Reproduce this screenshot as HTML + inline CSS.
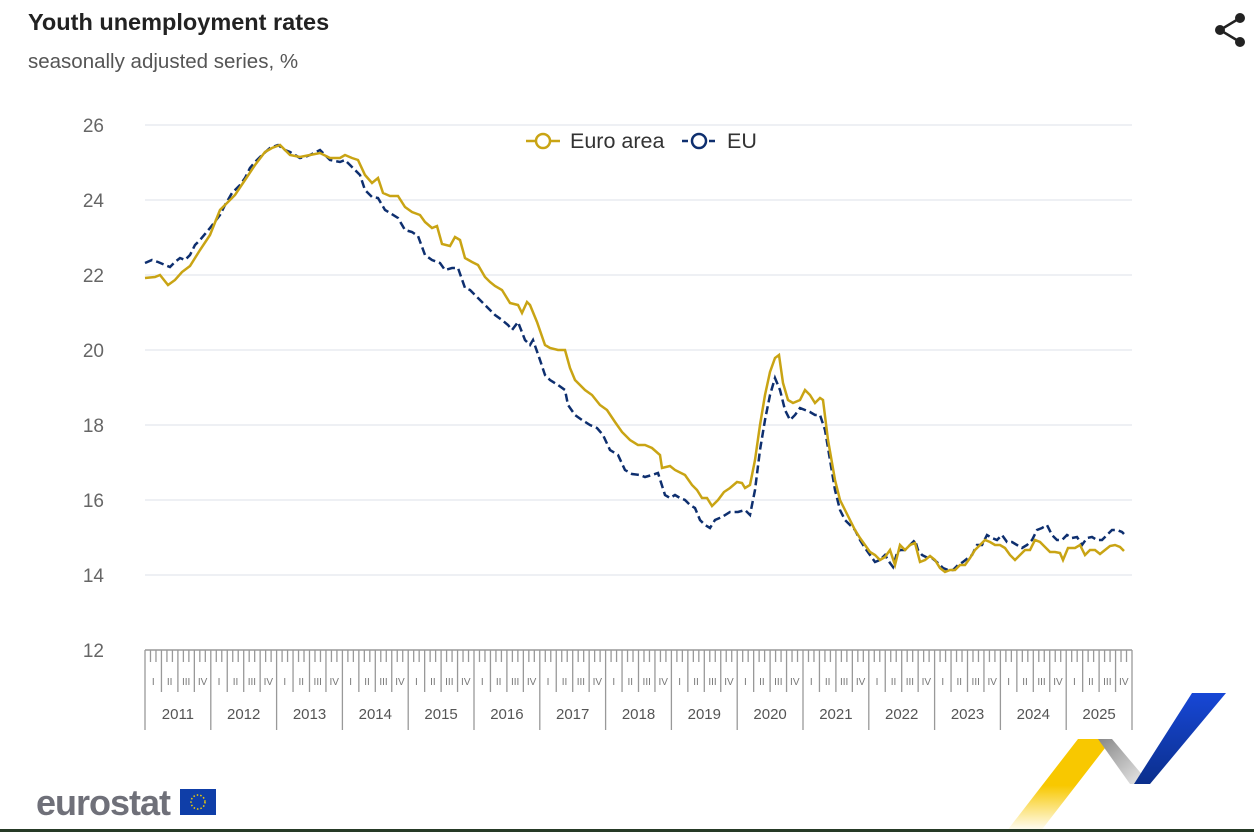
<!DOCTYPE html>
<html><head><meta charset="utf-8"><style>
html,body{margin:0;padding:0;background:#fff;width:1254px;height:832px;overflow:hidden;font-family:"Liberation Sans",sans-serif}
</style></head><body>
<svg id="s" width="1254" height="832" xmlns="http://www.w3.org/2000/svg" font-family="Liberation Sans, sans-serif">
<text x="28" y="30" font-size="23.5" font-weight="bold" fill="#222">Youth unemployment rates</text>
<text x="28" y="68" font-size="20.5" fill="#555">seasonally adjusted series, %</text>
<g fill="#222"><circle cx="1240" cy="18" r="5"/><circle cx="1240" cy="42" r="5"/><circle cx="1220" cy="30" r="5"/></g>
<path d="M1240 18L1220 30L1240 42" stroke="#222" stroke-width="2.5" fill="none"/>
<g id="grid"></g>
<g id="ticks"></g>
<polyline id="eu" fill="none" stroke="#0e2f6f" stroke-width="2.5" stroke-dasharray="8,4"/>
<polyline id="ea" fill="none" stroke="#c9a414" stroke-width="2.5"/>
<g>
<line x1="526" y1="141" x2="560" y2="141" stroke="#c9a414" stroke-width="2.5"/>
<circle cx="543" cy="141" r="7" fill="#fff" stroke="#c9a414" stroke-width="2.5"/>
<text x="570" y="148" font-size="21.5" fill="#333">Euro area</text>
<line x1="682" y1="141" x2="716" y2="141" stroke="#0e2f6f" stroke-width="2.5" stroke-dasharray="6,3"/>
<circle cx="699" cy="141" r="7" fill="#fff" stroke="#0e2f6f" stroke-width="2.5"/>
<text x="727" y="148" font-size="21.5" fill="#333">EU</text>
</g>
<text x="36" y="815" font-size="36" font-weight="bold" fill="#6f7079" letter-spacing="-1">eurostat</text>
<rect x="180" y="789" width="36" height="26" fill="#0f3ea8"/>
<circle cx="198" cy="802" r="7" fill="none" stroke="#f5d000" stroke-width="1.5" stroke-dasharray="1.5,2"/>
<defs><linearGradient id="yg" x1="0" y1="0" x2="0" y2="1"><stop offset="0" stop-color="#f8c800"/><stop offset="0.5" stop-color="#f8c800"/><stop offset="1" stop-color="#fff"/></linearGradient>
<linearGradient id="gg" x1="0" y1="0" x2="1" y2="1"><stop offset="0" stop-color="#888"/><stop offset="1" stop-color="#eee"/></linearGradient>
<linearGradient id="bg" x1="0" y1="0" x2="0" y2="1"><stop offset="0" stop-color="#1747d6"/><stop offset="1" stop-color="#0b2f8c"/></linearGradient></defs>
<polygon points="1078,739 1112,739 1040,832 1006,832" fill="url(#yg)"/>
<polygon points="1098,739 1112,739 1150,784 1130,784" fill="url(#gg)"/>
<polygon points="1192,693 1226,693 1150,784 1134,784" fill="url(#bg)"/>
<rect x="0" y="829" width="1254" height="3" fill="#263a26"/>
</svg>
<script>
var s=document.getElementById('s'),NS='http://www.w3.org/2000/svg';
function el(p,t,a,txt){var e=document.createElementNS(NS,t);for(var k in a)e.setAttribute(k,a[k]);if(txt)e.textContent=txt;document.getElementById(p).appendChild(e);}
for(var v=12;v<=26;v+=2){var y=650-(v-12)*37.5;if(v>12)el('grid','line',{x1:145,x2:1132,y1:y,y2:y,stroke:'#dde0ea','stroke-width':1});el('grid','text',{x:104,y:y+7,'font-size':19,fill:'#666','text-anchor':'end'},''+v);}
var x0=145,yw=65.8,mw=yw/12;
el('ticks','line',{x1:x0,x2:1132,y1:650,y2:650,stroke:'#999','stroke-width':1.5});
var q=['I','II','III','IV'];
for(var m=0;m<=180;m++){var x=x0+m*mw,len=m%12==0?80:(m%3==0?42:12);el('ticks','line',{x1:x,x2:x,y1:650,y2:650+len,stroke:'#999','stroke-width':1.3});
 if(m<180&&m%3==0){el('ticks','text',{x:x+mw*1.5,y:685,'font-size':10,fill:'#777','text-anchor':'middle'},q[(m/3)%4]);}
 if(m<180&&m%12==0){el('ticks','text',{x:x+yw/2,y:719,'font-size':15,fill:'#555','text-anchor':'middle'},''+(2011+m/12));}}
var ea="145,278 155,277 160,275 168,285 175,280 182,272 190,266 200,250 210,235 220,210 225,205 235,195 245,180 255,165 265,152 272,148 280,145 290,155 300,157 310,155 320,153 330,158 340,158 345,155 352,158 358,160 365,175 372,183 378,178 383,193 390,196 398,196 405,207 412,212 420,215 425,222 432,228 437,226 442,244 450,246 455,237 460,240 465,258 472,262 478,265 485,277 490,282 495,286 502,290 510,303 518,305 522,313 527,302 530,305 537,322 545,345 550,348 558,350 565,350 570,368 575,380 585,390 592,395 600,405 607,410 615,422 622,432 630,440 638,445 645,445 652,448 660,455 662,468 670,466 675,470 685,475 692,485 697,490 702,498 707,498 712,506 718,500 724,492 730,488 737,482 742,483 745,488 750,485 755,460 760,425 765,395 770,372 775,358 779,355 783,383 788,400 793,403 800,400 805,390 810,395 815,403 820,398 823,400 828,440 835,480 840,500 845,510 850,520 855,530 860,538 865,545 870,552 875,555 880,560 885,557 890,550 895,565 900,545 905,550 910,545 915,543 920,562 925,560 930,556 935,560 940,568 945,572 950,570 955,570 960,565 965,565 970,558 975,550 980,545 985,540 990,542 995,545 1000,545 1005,548 1010,555 1015,560 1020,555 1025,550 1030,550 1035,540 1040,542 1045,547 1050,552 1055,552 1060,553 1063,560 1068,548 1075,548 1080,545 1085,555 1090,550 1095,550 1100,554 1105,550 1110,546 1115,545 1120,547 1124,551";
var eu="145,263 152,260 158,262 165,265 170,267 175,262 180,258 185,260 190,255 195,245 200,240 210,228 220,215 225,205 232,193 240,185 245,178 250,168 255,162 262,155 270,148 278,145 285,150 290,152 300,158 305,157 310,155 320,150 325,155 330,160 340,162 345,160 350,165 355,170 360,175 365,190 372,197 378,198 385,210 390,213 398,218 405,230 412,232 418,236 425,255 432,260 440,263 445,270 452,268 458,268 465,288 470,290 478,298 485,305 490,310 495,315 502,320 508,325 512,330 518,322 525,340 530,345 533,340 540,360 545,375 550,380 558,385 565,390 568,405 575,415 582,420 590,425 597,428 603,435 610,450 618,455 625,470 632,474 640,475 645,477 652,475 658,473 665,495 670,498 675,495 680,498 685,500 690,505 695,508 700,520 705,525 710,528 715,520 722,517 730,512 738,512 745,510 750,515 755,490 760,450 765,420 770,395 775,378 780,390 785,410 790,420 795,415 800,408 805,410 810,412 815,415 820,415 825,430 830,460 835,490 840,510 845,520 850,525 855,530 860,540 865,548 870,555 875,562 880,560 885,555 890,563 893,567 897,553 900,550 905,550 910,545 915,540 918,550 922,555 928,558 932,558 938,563 943,568 948,570 953,570 958,565 963,562 968,558 972,555 977,545 982,545 987,535 992,538 997,540 1002,535 1007,542 1012,542 1017,545 1022,548 1027,545 1032,540 1037,530 1042,528 1047,525 1052,535 1057,540 1062,540 1067,535 1072,538 1077,537 1082,545 1087,538 1092,537 1097,540 1102,540 1107,535 1112,530 1117,530 1122,532 1124,534";
document.getElementById('ea').setAttribute('points',ea);
document.getElementById('eu').setAttribute('points',eu);
</script>
</body></html>
